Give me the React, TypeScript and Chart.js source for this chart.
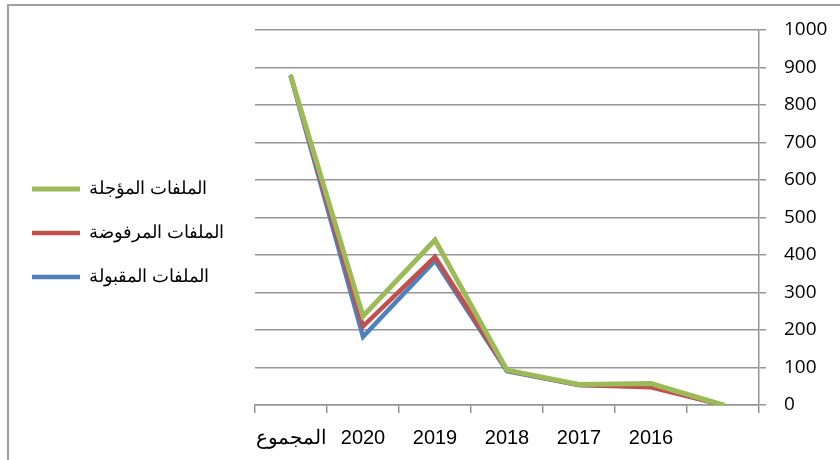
import React, { useEffect, useRef } from "react";
import { Chart, registerables } from "chart.js";

Chart.register(...registerables);

const categories = ["المجموع", "2020", "2019", "2018", "2017", "2016", ""];
const deferred = [875, 237, 440, 93, 55, 57, 0];
const rejected = [875, 210, 395, 92, 53, 47, 0];
const accepted = [875, 182, 385, 90, 53, 50, 0];
const seriesNames = ["الملفات المؤجلة", "الملفات المرفوضة", "الملفات المقبولة"];
const seriesColors = ["#9BBB59", "#C0504D", "#4F81BD"];
const yMin = 0;
const yMax = 1000;
const yStep = 100;

const GRID = "#969696";

const framePlugin = {
  id: "frame",
  beforeDraw(chart: any) {
    const ctx = chart.ctx;
    ctx.save();
    ctx.fillStyle = "#ffffff";
    ctx.fillRect(0, 0, chart.width, chart.height);
    ctx.strokeStyle = "#a0a0a0";
    ctx.lineWidth = 2;
    ctx.beginPath();
    ctx.moveTo(8, chart.height + 5);
    ctx.lineTo(8, 5);
    ctx.lineTo(chart.width + 5, 5);
    ctx.stroke();
    ctx.restore();
  },
};

export default function App() {
  const ref = useRef<HTMLCanvasElement>(null);
  useEffect(() => {
    if (!ref.current) return;
    const data = [deferred, rejected, accepted];
    const chart = new Chart(ref.current, {
      type: "line",
      data: {
        labels: categories,
        datasets: data.map((d, i) => ({
          label: seriesNames[i],
          data: d,
          borderColor: seriesColors[i],
          backgroundColor: seriesColors[i],
          borderWidth: i === 0 ? 5 : 4.5,
          borderCapStyle: "round",
          pointRadius: 0,
          pointHoverRadius: 0,
          tension: 0,
          fill: false,
          yAxisID: "y",
          xAxisID: "x",
        })),
      },
      options: {
        responsive: false,
        animation: false,
        events: [],
        layout: { padding: { left: 6, top: 6, right: 0, bottom: 0 } },
        plugins: {
          tooltip: { enabled: false },
          legend: {
            position: "left",
            maxWidth: 260,
            labels: {
              usePointStyle: true,
              pointStyle: "line",
              pointStyleWidth: 48,
              boxHeight: 18,
              padding: 26,
              color: "#000000",
              font: { family: "'Liberation Sans', Arial, sans-serif", size: 18 },
            },
          },
        },
        scales: {
          x: {
            offset: true,
            grid: {
              offset: true,
              drawOnChartArea: false,
              drawTicks: true,
              tickLength: 8,
              color: GRID,
              lineWidth: 1.5,
            },
            border: { display: true, color: GRID, width: 1.5 },
            ticks: {
              color: "#000000",
              padding: 13,
              maxRotation: 0,
              autoSkip: false,
              font: { family: "'Liberation Sans', Arial, sans-serif", size: 20 },
            },
            afterFit: (s: any) => {
              s.height = 55;
            },
          },
          topSpacer: {
            type: "linear",
            axis: "x",
            position: "top",
            display: true,
            grid: { display: false },
            border: { display: false },
            ticks: { display: false },
            afterFit: (s: any) => {
              s.height = 24;
            },
          },
          y: {
            position: "right",
            min: yMin,
            max: yMax,
            grid: { color: GRID, lineWidth: 1.5, tickLength: 7, drawTicks: true },
            border: { display: true, color: GRID, width: 1.5 },
            ticks: {
              stepSize: yStep,
              color: "#000000",
              padding: 18,
              font: { family: "'Open Sans', sans-serif", size: 19 },
              callback: (v: any) => String(v),
            },
            afterFit: (s: any) => {
              s.width = 81;
            },
          },
          spacer: {
            type: "linear",
            axis: "y",
            position: "left",
            display: true,
            grid: { display: false },
            border: { display: false },
            ticks: { display: false },
            afterFit: (s: any) => {
              const lw = s.chart.legend ? s.chart.legend.width : 0;
              s.width = Math.max(0, 255 - 6 - lw);
            },
          },
        },
      },
      plugins: [framePlugin],
    });
    return () => chart.destroy();
  }, []);
  return (
    <div style={{ position: "fixed", left: 0, top: 0, width: 840, height: 460, background: "#fff" }}>
      <canvas ref={ref} width={840} height={460} />
    </div>
  );
}
